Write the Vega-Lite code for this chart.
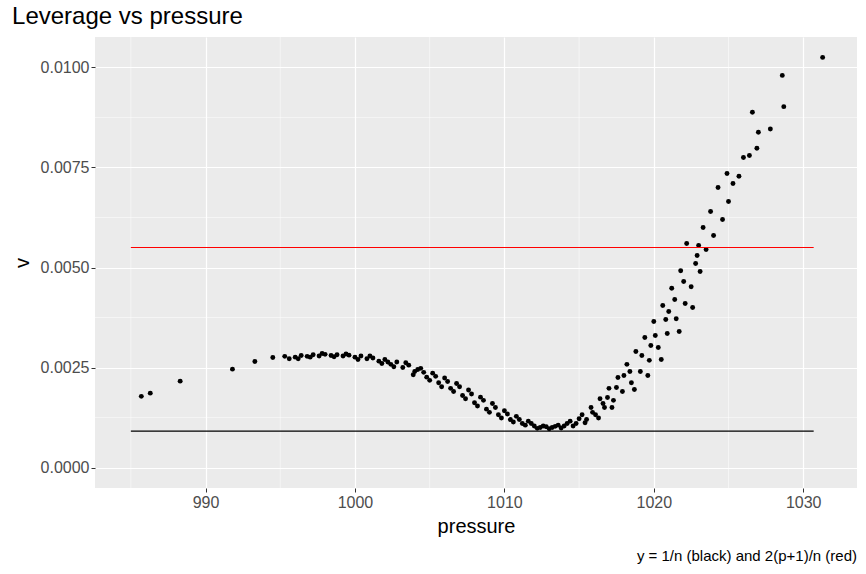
{
  "$schema": "https://vega.github.io/schema/vega-lite/v6.json",
  "autosize": {"type": "fit", "contains": "padding"},
  "width": 866,
  "height": 574,
  "padding": {"left": 12, "top": 4, "right": 8, "bottom": 10},
  "background": "white",
  "title": {"text": "Leverage vs pressure", "anchor": "start", "fontSize": 24, "fontWeight": "normal", "font": "Liberation Sans", "color": "black", "offset": 8},
  "config": {
    "view": {"fill": "#EBEBEB", "stroke": null},
    "axis": {"gridColor": "white", "gridWidth": 1.2, "domain": false, "tickColor": "#333333", "tickSize": 4, "labelFont": "Liberation Sans", "labelFontSize": 16, "labelColor": "#4D4D4D", "titleFont": "Liberation Sans", "titleFontSize": 20, "titleFontWeight": "normal", "titleColor": "black"}
  },
  "datasets": {
    "pts": [
      {"pressure": 985.7, "v": 0.00178}, {"pressure": 986.3, "v": 0.00186}, {"pressure": 988.3, "v": 0.00216},
      {"pressure": 991.8, "v": 0.00246}, {"pressure": 993.3, "v": 0.00265}, {"pressure": 994.5, "v": 0.00275},
      {"pressure": 995.3, "v": 0.00278}, {"pressure": 995.6, "v": 0.00272}, {"pressure": 996.0, "v": 0.00276},
      {"pressure": 996.4, "v": 0.00280}, {"pressure": 996.8, "v": 0.00278}, {"pressure": 997.2, "v": 0.00282},
      {"pressure": 997.6, "v": 0.00279}, {"pressure": 998.0, "v": 0.00283}, {"pressure": 998.4, "v": 0.00280},
      {"pressure": 998.8, "v": 0.00282}, {"pressure": 999.2, "v": 0.00279}, {"pressure": 999.6, "v": 0.00281},
      {"pressure": 1000.0, "v": 0.00276}, {"pressure": 1000.4, "v": 0.00279}, {"pressure": 1000.8, "v": 0.00272},
      {"pressure": 1001.2, "v": 0.00274}, {"pressure": 1001.6, "v": 0.00266}, {"pressure": 1002.0, "v": 0.00270},
      {"pressure": 1002.4, "v": 0.00258}, {"pressure": 1002.8, "v": 0.00264}, {"pressure": 1003.2, "v": 0.00250},
      {"pressure": 1003.6, "v": 0.00256}, {"pressure": 1004.0, "v": 0.00240}, {"pressure": 1004.4, "v": 0.00248},
      {"pressure": 1004.8, "v": 0.00226}, {"pressure": 1005.2, "v": 0.00236}, {"pressure": 1005.6, "v": 0.00212},
      {"pressure": 1006.0, "v": 0.00224}, {"pressure": 1006.4, "v": 0.00198}, {"pressure": 1006.8, "v": 0.00210},
      {"pressure": 1007.2, "v": 0.00180}, {"pressure": 1007.6, "v": 0.00194}, {"pressure": 1008.0, "v": 0.00162},
      {"pressure": 1008.4, "v": 0.00176}, {"pressure": 1008.8, "v": 0.00146}, {"pressure": 1009.2, "v": 0.00160},
      {"pressure": 1009.6, "v": 0.00132}, {"pressure": 1010.0, "v": 0.00142}, {"pressure": 1010.4, "v": 0.00120},
      {"pressure": 1010.8, "v": 0.00128}, {"pressure": 1011.2, "v": 0.00110}, {"pressure": 1011.6, "v": 0.00116},
      {"pressure": 1012.0, "v": 0.00104}, {"pressure": 1012.4, "v": 0.00100}, {"pressure": 1012.8, "v": 0.00102},
      {"pressure": 1013.2, "v": 0.00100}, {"pressure": 1013.6, "v": 0.00106}, {"pressure": 1014.0, "v": 0.00104},
      {"pressure": 1014.4, "v": 0.00116}, {"pressure": 1014.8, "v": 0.00110}, {"pressure": 1015.2, "v": 0.00132},
      {"pressure": 1015.5, "v": 0.00120}, {"pressure": 1015.8, "v": 0.00150}, {"pressure": 1016.1, "v": 0.00132},
      {"pressure": 1016.4, "v": 0.00172}, {"pressure": 1016.7, "v": 0.00150}, {"pressure": 1017.0, "v": 0.00198},
      {"pressure": 1017.3, "v": 0.00168}, {"pressure": 1017.6, "v": 0.00225}, {"pressure": 1017.9, "v": 0.00190},
      {"pressure": 1018.2, "v": 0.00258}, {"pressure": 1018.5, "v": 0.00212}, {"pressure": 1018.8, "v": 0.00290},
      {"pressure": 1019.1, "v": 0.00240}, {"pressure": 1019.4, "v": 0.00325}, {"pressure": 1019.7, "v": 0.00268},
      {"pressure": 1020.0, "v": 0.00365}, {"pressure": 1020.3, "v": 0.00300}, {"pressure": 1020.6, "v": 0.00405},
      {"pressure": 1020.9, "v": 0.00335}, {"pressure": 1021.2, "v": 0.00448}, {"pressure": 1021.5, "v": 0.00372},
      {"pressure": 1021.8, "v": 0.00492}, {"pressure": 1022.1, "v": 0.00410}, {"pressure": 1022.2, "v": 0.00560},
      {"pressure": 1022.5, "v": 0.00452}, {"pressure": 1022.8, "v": 0.00510}, {"pressure": 1023.1, "v": 0.00490},
      {"pressure": 1023.3, "v": 0.00600}, {"pressure": 1023.5, "v": 0.00545}, {"pressure": 1023.8, "v": 0.00640},
      {"pressure": 1024.0, "v": 0.00580}, {"pressure": 1024.3, "v": 0.00700}, {"pressure": 1024.6, "v": 0.00620},
      {"pressure": 1025.0, "v": 0.00665}, {"pressure": 1025.3, "v": 0.00710}, {"pressure": 1025.7, "v": 0.00728},
      {"pressure": 1026.0, "v": 0.00775}, {"pressure": 1026.4, "v": 0.00780}, {"pressure": 1026.6, "v": 0.00888},
      {"pressure": 1026.9, "v": 0.00798}, {"pressure": 1027.0, "v": 0.00838}, {"pressure": 1027.8, "v": 0.00846},
      {"pressure": 1028.6, "v": 0.00980}, {"pressure": 1028.7, "v": 0.00902}, {"pressure": 1031.3, "v": 0.01025},
      {"pressure": 1024.9, "v": 0.00735}, {"pressure": 1023.0, "v": 0.00555}, {"pressure": 1021.0, "v": 0.00390},
      {"pressure": 1019.8, "v": 0.00305}, {"pressure": 1018.0, "v": 0.00230}, {"pressure": 1016.9, "v": 0.00175},
      {"pressure": 1006.2, "v": 0.00215}, {"pressure": 1004.2, "v": 0.00245}, {"pressure": 1002.2, "v": 0.00264},
      {"pressure": 996.2, "v": 0.00272}, {"pressure": 997.0, "v": 0.00276}, {"pressure": 997.8, "v": 0.00285},
      {"pressure": 998.6, "v": 0.00277}, {"pressure": 999.4, "v": 0.00284}, {"pressure": 1000.2, "v": 0.00270},
      {"pressure": 1001.0, "v": 0.00279}, {"pressure": 1001.8, "v": 0.00260}, {"pressure": 1002.6, "v": 0.00252},
      {"pressure": 1003.4, "v": 0.00262}, {"pressure": 1003.9, "v": 0.00232}, {"pressure": 1004.6, "v": 0.00238},
      {"pressure": 1005.0, "v": 0.00218}, {"pressure": 1005.4, "v": 0.00228}, {"pressure": 1005.8, "v": 0.00202},
      {"pressure": 1006.6, "v": 0.00190}, {"pressure": 1007.0, "v": 0.00202}, {"pressure": 1007.4, "v": 0.00172},
      {"pressure": 1007.8, "v": 0.00184}, {"pressure": 1008.2, "v": 0.00154}, {"pressure": 1008.6, "v": 0.00168},
      {"pressure": 1009.0, "v": 0.00138}, {"pressure": 1009.4, "v": 0.00150}, {"pressure": 1009.8, "v": 0.00124},
      {"pressure": 1010.2, "v": 0.00134}, {"pressure": 1010.6, "v": 0.00114}, {"pressure": 1011.0, "v": 0.00120},
      {"pressure": 1011.4, "v": 0.00106}, {"pressure": 1011.8, "v": 0.00110}, {"pressure": 1012.2, "v": 0.00098},
      {"pressure": 1012.6, "v": 0.00104}, {"pressure": 1013.0, "v": 0.00097}, {"pressure": 1013.4, "v": 0.00103},
      {"pressure": 1013.8, "v": 0.00099}, {"pressure": 1014.2, "v": 0.00110}, {"pressure": 1014.6, "v": 0.00104},
      {"pressure": 1015.0, "v": 0.00122}, {"pressure": 1015.4, "v": 0.00112}, {"pressure": 1015.9, "v": 0.00138},
      {"pressure": 1016.3, "v": 0.00124}, {"pressure": 1016.6, "v": 0.00160}, {"pressure": 1017.2, "v": 0.00150},
      {"pressure": 1017.5, "v": 0.00200}, {"pressure": 1018.4, "v": 0.00240}, {"pressure": 1018.7, "v": 0.00195},
      {"pressure": 1019.2, "v": 0.00280}, {"pressure": 1019.6, "v": 0.00230}, {"pressure": 1020.1, "v": 0.00330},
      {"pressure": 1020.5, "v": 0.00270}, {"pressure": 1020.8, "v": 0.00370}, {"pressure": 1021.4, "v": 0.00420},
      {"pressure": 1021.7, "v": 0.00340}, {"pressure": 1022.0, "v": 0.00465}, {"pressure": 1022.6, "v": 0.00400},
      {"pressure": 1022.9, "v": 0.00530}
    ],
    "hlines": [
      {"x": 985.0, "x2": 1030.7, "y": 0.00091, "c": "black"},
      {"x": 985.0, "x2": 1030.7, "y": 0.0055, "c": "red"}
    ],
    "xminor": [{"m": 985}, {"m": 995}, {"m": 1005}, {"m": 1015}, {"m": 1025}],
    "yminor": [{"m": 0.00125}, {"m": 0.00375}, {"m": 0.00625}, {"m": 0.00875}]
  },
  "layer": [
    {
      "data": {"name": "xminor"},
      "mark": {"type": "rule", "color": "white", "strokeWidth": 0.5},
      "encoding": {"x": {"field": "m", "type": "quantitative", "scale": {"domain": [982.6, 1033.6], "nice": false, "zero": false}}}
    },
    {
      "data": {"name": "yminor"},
      "mark": {"type": "rule", "color": "white", "strokeWidth": 0.5},
      "encoding": {"y": {"field": "m", "type": "quantitative", "scale": {"domain": [-0.00051, 0.01076], "nice": false}}}
    },
    {
      "data": {"name": "pts"},
      "mark": {"type": "circle", "color": "black", "opacity": 1, "size": 24},
      "encoding": {
        "x": {"field": "pressure", "type": "quantitative", "title": "pressure", "scale": {"domain": [982.6, 1033.6], "nice": false, "zero": false}, "axis": {"values": [990, 1000, 1010, 1020, 1030], "format": "d", "titlePadding": 6}},
        "y": {"field": "v", "type": "quantitative", "title": "v", "scale": {"domain": [-0.00051, 0.01076], "nice": false}, "axis": {"values": [0, 0.0025, 0.005, 0.0075, 0.01], "format": ".4f", "titlePadding": 8}}
      }
    },
    {
      "data": {"name": "hlines"},
      "mark": {"type": "rule", "strokeWidth": 1.2},
      "encoding": {
        "x": {"field": "x", "type": "quantitative"},
        "x2": {"field": "x2"},
        "y": {"field": "y", "type": "quantitative"},
        "color": {"field": "c", "type": "nominal", "scale": null}
      }
    },
    {
      "data": {"values": [{"t": "y = 1/n (black) and 2(p+1)/n (red)"}]},
      "mark": {"type": "text", "align": "right", "baseline": "bottom", "fontSize": 15, "font": "Liberation Sans", "color": "black", "clip": false, "dy": 76},
      "encoding": {
        "text": {"field": "t"},
        "x": {"datum": 1033.6, "type": "quantitative"},
        "y": {"datum": -0.00051, "type": "quantitative"}
      }
    }
  ]
}
